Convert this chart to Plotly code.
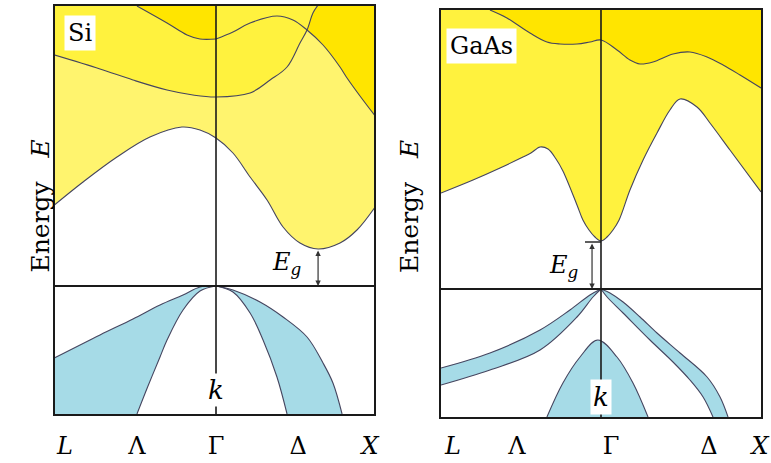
import plotly.graph_objects as go

# ---------------- data (k: L=-1, Gamma=0, X=+1 ; E in eV, VB top = 0) ----------------
# Si conduction bands
si_c1_k = [-1.01, -0.831, -0.619, -0.413, -0.213, -0.1, 0, 0.106, 0.213, 0.319, 0.419, 0.525, 0.638, 0.775, 0.881, 0.99]
si_c1_E = [2.43, 3.12, 3.87, 4.47, 4.77, 4.68, 4.44, 3.99, 3.27, 2.58, 1.77, 1.29, 1.11, 1.29, 1.68, 2.34]
si_c2_k = [-1.01, -0.725, -0.519, -0.306, -0.144, 0, 0.213, 0.338, 0.444, 0.525, 0.569, 0.606, 0.638]
si_c2_E = [6.93, 6.51, 6.18, 5.88, 5.73, 5.67, 5.79, 6.18, 6.57, 7.29, 7.68, 8.19, 8.43]
si_c3_k = [0, 0.106, 0.213, 0.381, 0.481, 0.569, 0.669, 0.775, 0.819, 0.9, 0.99]
si_c3_E = [7.41, 7.62, 7.89, 8.1, 7.98, 7.68, 7.23, 6.57, 6.24, 5.7, 5.13]
si_c4_k = [-0.494, -0.306, -0.181, -0.1, 0]
si_c4_E = [8.4, 7.89, 7.53, 7.41, 7.41]
# Si valence bands
si_v1_k = [0, -0.1, -0.206, -0.35, -0.519, -0.725, -1.01]
si_v1_E = [0, -0.03, -0.27, -0.57, -0.99, -1.47, -2.16]
si_v2_k = [0, -0.1, -0.206, -0.306, -0.35, -0.425, -0.494]
si_v2_E = [0, -0.15, -0.72, -1.62, -2.13, -3.0, -3.84]
si_v3_k = [0, 0.106, 0.275, 0.419, 0.569, 0.669, 0.731, 0.788]
si_v3_E = [0, -0.12, -0.48, -0.93, -1.53, -2.31, -2.91, -3.84]
si_v4_k = [0, 0.106, 0.213, 0.294, 0.381, 0.444]
si_v4_E = [0, -0.18, -0.81, -1.62, -2.73, -3.84]
si_gap = 1.11
si_gap_k = 0.638

# GaAs conduction bands
ga_c1_k = [-1.0, -0.8, -0.631, -0.488, -0.438, -0.381, -0.331, -0.281, -0.238, -0.15, -0.113, -0.075,
           -0.038, 0, 0.038, 0.075, 0.113, 0.181, 0.263, 0.35, 0.431, 0.494, 0.6, 0.681, 0.806, 1.0]
ga_c1_E = [2.88, 3.27, 3.63, 3.96, 4.08, 4.26, 4.2, 3.9, 3.54, 2.52, 2.07, 1.77,
           1.56, 1.44, 1.56, 1.77, 2.07, 2.97, 3.87, 4.68, 5.37, 5.7, 5.46, 4.98, 4.17, 2.91]
ga_c4_k = [-0.694, -0.588, -0.444, -0.338, -0.256, -0.15, -0.069, 0, 0.1, 0.181, 0.244, 0.325,
           0.45, 0.556, 0.663, 0.763, 0.869, 1.0]
ga_c4_E = [8.37, 8.13, 7.68, 7.41, 7.35, 7.35, 7.41, 7.47, 7.17, 6.87, 6.75, 6.81,
           7.05, 7.11, 6.96, 6.72, 6.42, 6.03]
# GaAs valence bands
ga_v1_k = [0, -0.069, -0.194, -0.381, -0.694, -1.0]
ga_v1_E = [0, -0.18, -0.63, -1.23, -1.92, -2.37]
ga_v2_k = [0, -0.05, -0.15, -0.381, -0.694, -1.0]
ga_v2_E = [0, -0.24, -0.84, -1.83, -2.43, -2.88]
ga_v3_k = [0, 0.056, 0.138, 0.244, 0.35, 0.494, 0.663, 0.744, 0.794]
ga_v3_E = [0, -0.12, -0.39, -0.84, -1.32, -1.92, -2.64, -3.24, -3.84]
ga_v4_k = [0, 0.038, 0.138, 0.306, 0.45, 0.556, 0.638, 0.7]
ga_v4_E = [0, -0.24, -0.72, -1.53, -2.19, -2.73, -3.24, -3.84]
ga_so_k = [-0.338, -0.238, -0.131, -0.02, 0.1, 0.2, 0.294]
ga_so_E = [-3.84, -2.82, -2.04, -1.53, -2.04, -2.82, -3.84]
ga_gap = 1.41
ga_gap_k = -0.056

# tick labels
tick_text = ["<i>L</i>", "Λ", "Γ", "Δ", "<i>X</i>"]
si_tick_k = [-0.944, -0.494, 0, 0.513, 0.963]
ga_tick_k = [-0.925, -0.525, 0.0625, 0.675, 0.994]

# ---------------- styling ----------------
DARK = "#FFE500"
MED = "#FFF23E"
LIGHT = "#FFF46E"
BLUE = "#A6DBE7"
CURVE = "#45455f"
FRAME = "#1a1a1a"
SERIF = "DejaVu Serif"
TOP, BOT, FAR = 9.5, -4.6, 1.15

fig = go.Figure()


def poly(*segs):
    xs, ys = [], []
    for sx, sy in segs:
        sx, sy = list(sx), list(sy)
        xs += [sx[0]] + sx + [sx[-1]]
        ys += [sy[0]] + sy + [sy[-1]]
    return xs, ys


def add_fill(pts, color, xa, ya):
    xs, ys = pts
    fig.add_trace(go.Scatter(x=xs, y=ys, mode="lines", fill="toself", fillcolor=color,
                             line=dict(width=0, shape="spline", simplify=False, color=color),
                             hoverinfo="skip", showlegend=False, xaxis=xa, yaxis=ya))


def add_line(xs, ys, xa, ya):
    fig.add_trace(go.Scatter(x=xs, y=ys, mode="lines",
                             line=dict(width=1.1, shape="spline", simplify=False, color=CURVE),
                             hoverinfo="skip", showlegend=False, xaxis=xa, yaxis=ya))


def rev(a):
    return list(a)[::-1]


# ---- Si fills
add_fill(poly((si_c1_k, si_c1_E), ([FAR], [si_c1_E[-1]]), ([FAR], [TOP]), ([-FAR], [TOP]),
              ([-FAR], [si_c1_E[0]])), LIGHT, "x", "y")
add_fill(poly((si_c2_k, si_c2_E), ([si_c2_k[-1]], [TOP]), ([-FAR], [TOP]), ([-FAR], [si_c2_E[0]])),
         MED, "x", "y")
add_fill(poly((si_c4_k, si_c4_E), ([0], [TOP]), ([si_c4_k[0]], [TOP])), DARK, "x", "y")
i2 = si_c2_k.index(0.569)
i3 = si_c3_k.index(0.569)
add_fill(poly((si_c2_k[i2:], si_c2_E[i2:]), ([si_c2_k[-1]], [TOP]), ([FAR], [TOP]),
              ([FAR], [si_c3_E[-1]]), (rev(si_c3_k[i3:]), rev(si_c3_E[i3:]))), DARK, "x", "y")
add_fill(poly((si_v1_k, si_v1_E), ([-FAR], [si_v1_E[-1]]), ([-FAR], [BOT]), ([si_v2_k[-1]], [BOT]),
              (rev(si_v2_k), rev(si_v2_E))), BLUE, "x", "y")
add_fill(poly((si_v3_k, si_v3_E), ([si_v3_k[-1]], [BOT]), ([si_v4_k[-1]], [BOT]),
              (rev(si_v4_k), rev(si_v4_E))), BLUE, "x", "y")

# ---- GaAs fills
add_fill(poly((ga_c1_k, ga_c1_E), ([FAR], [ga_c1_E[-1]]), ([FAR], [TOP]), ([-FAR], [TOP]),
              ([-FAR], [ga_c1_E[0]])), MED, "x2", "y2")
add_fill(poly((ga_c4_k, ga_c4_E), ([FAR], [ga_c4_E[-1]]), ([FAR], [TOP]), ([ga_c4_k[0]], [TOP])),
         DARK, "x2", "y2")
add_fill(poly((ga_v1_k, ga_v1_E), ([-FAR], [ga_v1_E[-1]]), ([-FAR], [ga_v2_E[-1]]),
              (rev(ga_v2_k), rev(ga_v2_E))), BLUE, "x2", "y2")
add_fill(poly((ga_v3_k, ga_v3_E), ([ga_v3_k[-1]], [BOT]), ([ga_v4_k[-1]], [BOT]),
              (rev(ga_v4_k), rev(ga_v4_E))), BLUE, "x2", "y2")
add_fill(poly((ga_so_k, ga_so_E), ([ga_so_k[-1]], [BOT]), ([ga_so_k[0]], [BOT])), BLUE, "x2", "y2")

# ---- band lines
for kx, ey in [(si_c1_k, si_c1_E), (si_c2_k, si_c2_E), (si_c3_k, si_c3_E), (si_c4_k, si_c4_E),
               (si_v1_k, si_v1_E), (si_v2_k, si_v2_E), (si_v3_k, si_v3_E), (si_v4_k, si_v4_E)]:
    add_line(kx, ey, "x", "y")
for kx, ey in [(ga_c1_k, ga_c1_E), (ga_c4_k, ga_c4_E), (ga_v1_k, ga_v1_E), (ga_v2_k, ga_v2_E),
               (ga_v3_k, ga_v3_E), (ga_v4_k, ga_v4_E), (ga_so_k, ga_so_E)]:
    add_line(kx, ey, "x2", "y2")

# ---- axes
tickfont = dict(family=SERIF, size=24, color="black")
common_x = dict(showgrid=False, zeroline=False, showline=True, mirror=True, linecolor=FRAME,
                linewidth=2, ticks="", tickfont=tickfont, fixedrange=True)
common_y = dict(showgrid=False, zeroline=False, showline=True, mirror=True, linecolor=FRAME,
                linewidth=2, ticks="", showticklabels=False, fixedrange=True)

fig.update_layout(
    width=771, height=463, margin=dict(l=0, r=0, t=0, b=0, autoexpand=False),
    paper_bgcolor="white", plot_bgcolor="white", showlegend=False,
    xaxis=dict(domain=[0.07134, 0.48508], range=[-1.00625, 0.9875], anchor="y",
               tickvals=si_tick_k, ticktext=tick_text, ticklabelstandoff=9, **common_x),
    yaxis=dict(domain=[0.10583, 0.98704], range=[-3.84, 8.4], anchor="x", **common_y),
    xaxis2=dict(domain=[0.57198, 0.98703], range=[-1.0, 1.0], anchor="y2",
                tickvals=ga_tick_k, ticktext=tick_text, ticklabelstandoff=6, **common_x),
    yaxis2=dict(domain=[0.09935, 0.9784], range=[-3.84, 8.37], anchor="x2", **common_y),
)

# Gamma vertical lines and valence-band-top horizontal lines
for xr, yr in [("x", "y"), ("x2", "y2")]:
    fig.add_shape(type="line", xref=xr, yref=yr + " domain", x0=0, x1=0, y0=0, y1=1,
                  line=dict(color=FRAME, width=1.6))
    fig.add_shape(type="line", xref=xr + " domain", yref=yr, x0=0, x1=1, y0=0, y1=0,
                  line=dict(color=FRAME, width=2))

# GaAs gap cap
fig.add_shape(type="line", xref="x2", yref="y2", x0=-0.1, x1=0, y0=ga_gap, y1=ga_gap,
              line=dict(color=FRAME, width=1.4))

# gap arrows
for xr, yr, gk, gE in [("x", "y", si_gap_k, si_gap), ("x2", "y2", ga_gap_k, ga_gap)]:
    fig.add_annotation(x=gk, y=0, ax=gk, ay=gE, xref=xr, yref=yr, axref=xr, ayref=yr,
                       text="", showarrow=True, arrowside="end+start", arrowhead=2,
                       arrowsize=0.9, arrowwidth=1.2, arrowcolor="#333333",
                       standoff=0, startstandoff=0)

# labels
lab_font = dict(family=SERIF, size=24, color="black")
fig.add_annotation(x=0.444, y=0.69, xref="x", yref="y", text="<i>E<sub>g</sub></i>",
                   showarrow=False, font=lab_font)
fig.add_annotation(x=-0.231, y=0.69, xref="x2", yref="y2", text="<i>E<sub>g</sub></i>",
                   showarrow=False, font=lab_font)
k_font = dict(family=SERIF, size=26, color="black")
fig.add_annotation(x=0, y=-3.12, xref="x", yref="y", text="<i>k</i>", showarrow=False,
                   font=k_font, bgcolor="white", borderpad=1)
fig.add_annotation(x=0, y=-3.24, xref="x2", yref="y2", text="<i>k</i>", showarrow=False,
                   font=k_font, bgcolor="white", borderpad=2)
name_font = dict(family=SERIF, size=24, color="black")
fig.add_annotation(x=-0.85, y=7.59, xref="x", yref="y", text="Si", showarrow=False,
                   font=name_font, bgcolor="white", borderpad=3)
fig.add_annotation(x=-0.744, y=7.29, xref="x2", yref="y2", text="GaAs", showarrow=False,
                   font=name_font, bgcolor="white", borderpad=3)

# y-axis titles
ylab = "Energy\u00a0\u00a0\u00a0<i>E</i>"
for xc, yc in [(24, 206), (409, 207)]:
    fig.add_annotation(x=xc / 771, y=1 - yc / 463, xref="paper", yref="paper", text=ylab,
                       textangle=-90, showarrow=False, font=dict(family=SERIF, size=25, color="black"))

fig.write_html("out.html", config={"displayModeBar": False},
               post_script="document.body.style.margin='0';document.body.style.padding='0';")
